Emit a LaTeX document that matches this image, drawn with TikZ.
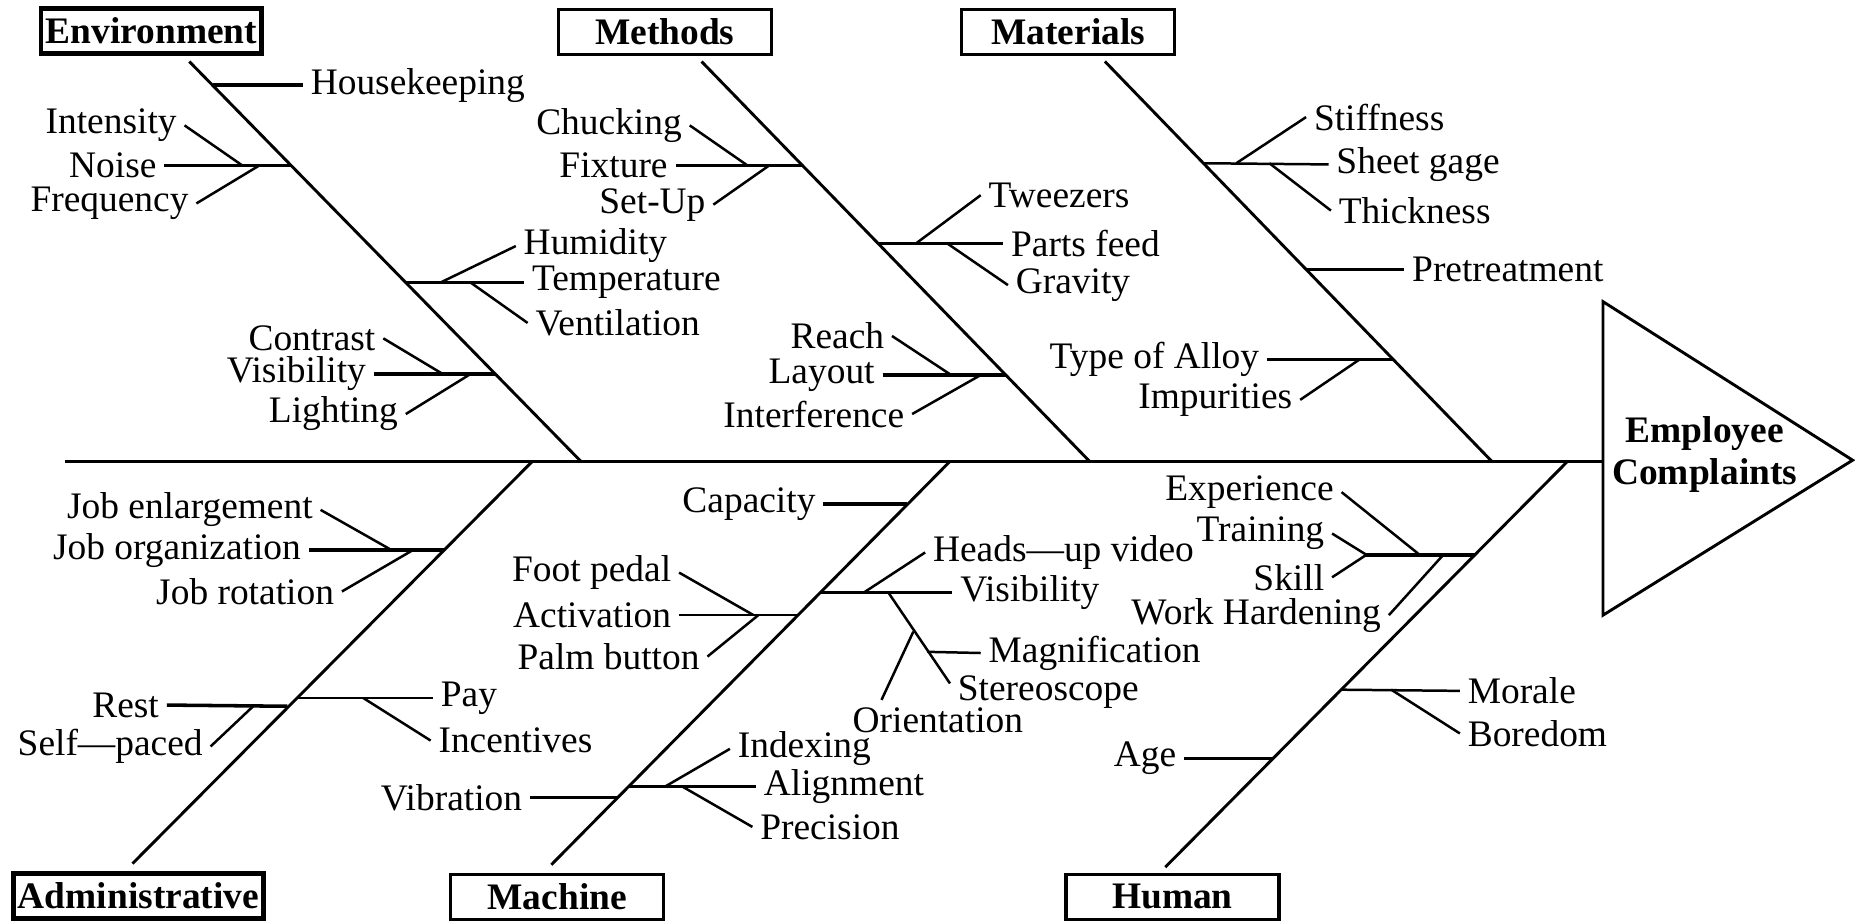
\documentclass[tikz,border=0pt]{standalone}
\usepackage{fontspec}
\setmainfont{Liberation Serif}
\usepackage{xcolor}
\tikzset{
  causebox/.style={draw,line width=0.8pt,text=black,font=\fontsize{9}{10}\selectfont\bfseries,minimum width=18mm,minimum height=3.8mm,inner sep=0.4mm},
  lbl/.style={text=black,font=\fontsize{9}{10}\selectfont,inner sep=0.6mm},
  lleft/.style={lbl,anchor=east},
  lright/.style={lbl,anchor=west},
  bone/.style={line width=0.7pt},
  stem/.style={line width=0.85pt},
  twig/.style={line width=0.6pt}
}

\begin{document}
\begin{tikzpicture}[x=0.1mm,y=-0.1mm]

\useasboundingbox (0,0) rectangle (1568,780);

% spine and head
\coordinate (tail) at (55,390);
\coordinate (headtop) at (1355,255);
\coordinate (headbot) at (1355,520);
\coordinate (headtip) at (1566,389);
\coordinate (headmid) at (1355,390);

\draw[bone] (headtop) -- (headtip) -- (headbot) -- cycle;

\node[font=\fontsize{9}{10}\selectfont\bfseries,align=center] (effect) at (1441,384) {Employee\\Complaints};

\draw[stem] (tail) -- (headmid);

% category boxes
\node[causebox,line width=1.2pt] (env) at (128,26) {Environment};
\node[causebox] (meth) at (562,27) {Methods};
\node[causebox] (mat) at (903,27) {Materials};
\node[causebox,line width=1.2pt] (adm) at (117,757) {Administrative};
\node[causebox] (mach) at (471,758) {Machine};
\node[causebox] (hum) at (991,758) {Human};

% ribs
\coordinate (envtop) at (160,52);
\coordinate (envbot) at (491,390);
\coordinate (methtop) at (593,52);
\coordinate (methbot) at (921,390);
\coordinate (mattop) at (934,52);
\coordinate (matbot) at (1261,390);
\coordinate (admtop) at (450,390);
\coordinate (admbot) at (112,730);
\coordinate (machtop) at (803,390);
\coordinate (machbot) at (466,731);
\coordinate (humtop) at (1325,390);
\coordinate (humbot) at (985,733);

\draw[bone] (envtop) -- (envbot);
\draw[bone] (methtop) -- (methbot);
\draw[bone] (mattop) -- (matbot);
\draw[bone] (admbot) -- (admtop);
\draw[bone] (machbot) -- (machtop);
\draw[bone] (humbot) -- (humtop);

% Environment
\node[lright] (housekeeping) at (256,72) {Housekeeping};
\coordinate (hkj) at (180,72);
\draw[stem] (hkj) -- (housekeeping.west);

\node[lleft] (intensity) at (156,106) {Intensity};
\node[lleft] (noise) at (139,140) {Noise};
\node[lleft] (frequency) at (166,172) {Frequency};
\coordinate (noisej) at (246,140);
\coordinate (intj) at (205,140);
\coordinate (freqj) at (219,140);
\draw[stem] (noise.east) -- (noisej);
\draw[twig] (intensity.east) -- (intj);
\draw[twig] (frequency.east) -- (freqj);

\node[lright] (humidity) at (436,208) {Humidity};
\node[lright] (temperature) at (443,239) {Temperature};
\node[lright] (ventilation) at (446,273) {Ventilation};
\coordinate (tempj) at (343,239);
\coordinate (humj) at (372,239);
\coordinate (ventj) at (398,239);
\draw[twig] (tempj) -- (temperature.west);
\draw[twig] (humj) -- (humidity.west);
\draw[twig] (ventj) -- (ventilation.west);

\node[lleft] (contrast) at (324,286) {Contrast};
\node[lleft] (envvis) at (316,316) {Visibility};
\node[lleft] (lighting) at (343,350) {Lighting};
\coordinate (envvisj) at (418,316);
\coordinate (contj) at (374,316);
\coordinate (lightj) at (398,316);
\draw[stem] (envvis.east) -- (envvisj);
\draw[twig] (contrast.east) -- (contj);
\draw[twig] (lighting.east) -- (lightj);

% Methods
\node[lleft] (chucking) at (583,106) {Chucking};
\node[lleft] (fixture) at (571,140) {Fixture};
\node[lleft] (setup) at (603,173) {Set-Up};
\coordinate (fixj) at (678,140);
\coordinate (chuckj) at (632,140);
\coordinate (setupj) at (650,140);
\draw[stem] (fixture.east) -- (fixj);
\draw[twig] (chucking.east) -- (chuckj);
\draw[twig] (setup.east) -- (setupj);

\node[lright] (tweezers) at (829,165) {Tweezers};
\node[lright] (partsfeed) at (848,206) {Parts feed};
\node[lright] (gravity) at (852,241) {Gravity};
\coordinate (partsj) at (742,206);
\coordinate (tweezj) at (774,206);
\coordinate (gravj) at (801,206);
\draw[stem] (partsj) -- (partsfeed.west);
\draw[twig] (tweezj) -- (tweezers.west);
\draw[twig] (gravj) -- (gravity.west);

\node[lleft] (reach) at (754,284) {Reach};
\node[lleft] (layout) at (746,317) {Layout};
\node[lleft] (interference) at (771,350) {Interference};
\coordinate (layoutj) at (850,317);
\coordinate (reachj) at (804,317);
\coordinate (interj) at (829,317);
\draw[stem] (layout.east) -- (layoutj);
\draw[twig] (reach.east) -- (reachj);
\draw[twig] (interference.east) -- (interj);

% Materials
\node[lright] (stiffness) at (1104,99) {Stiffness};
\node[lright] (sheetgage) at (1123,139) {Sheet gage};
\node[lright] (thickness) at (1125,178) {Thickness};
\coordinate (sheetj) at (1017,138);
\coordinate (stiffj) at (1045,138);
\coordinate (thickj) at (1073,138);
\draw[twig] (sheetj) -- (sheetgage.west);
\draw[twig] (stiffj) -- (stiffness.west);
\draw[twig] (thickj) -- (thickness.west);

\node[lright] (pretreat) at (1187,228) {Pretreatment};
\coordinate (pretreatj) at (1104,228);
\draw[stem] (pretreatj) -- (pretreat.west);

\node[lleft] (alloy) at (1071,304) {Type of Alloy};
\node[lleft] (impurities) at (1099,338) {Impurities};
\coordinate (alloyj) at (1178,304);
\coordinate (impj) at (1149,304);
\draw[stem] (alloy.east) -- (alloyj);
\draw[twig] (impurities.east) -- (impj);

% Administrative
\node[lleft] (jobenl) at (271,431) {Job enlargement};
\node[lleft] (joborg) at (261,465) {Job organization};
\node[lleft] (jobrot) at (289,500) {Job rotation};
\coordinate (joborgj) at (375,465);
\coordinate (jobenlj) at (331,465);
\coordinate (jobrotj) at (349,465);
\draw[stem] (joborg.east) -- (joborgj);
\draw[twig] (jobenl.east) -- (jobenlj);
\draw[twig] (jobrot.east) -- (jobrotj);

\node[lleft] (rest) at (141,596) {Rest};
\node[lleft] (selfpaced) at (178,631) {Self—paced};
\coordinate (restj) at (243,597);
\coordinate (selfj) at (214,597);
\draw[stem] (rest.east) -- (restj);
\draw[twig] (selfpaced.east) -- (selfj);

\node[lright] (pay) at (366,590) {Pay};
\node[lright] (incentives) at (364,626) {Incentives};
\coordinate (payj) at (251,590);
\coordinate (incj) at (307,590);
\draw[twig] (payj) -- (pay.west);
\draw[twig] (incj) -- (incentives.west);

% Machine
\node[lleft] (capacity) at (696,426) {Capacity};
\coordinate (capj) at (767,426);
\draw[stem] (capacity.east) -- (capj);

\node[lleft] (footpedal) at (574,484) {Foot pedal};
\node[lleft] (activation) at (574,520) {Activation};
\node[lleft] (palmbutton) at (598,555) {Palm button};
\coordinate (actj) at (675,520);
\coordinate (footj) at (637,520);
\coordinate (palmj) at (641,520);
\draw[twig] (activation.east) -- (actj);
\draw[twig] (footpedal.east) -- (footj);
\draw[twig] (palmbutton.east) -- (palmj);

\node[lright] (headsup) at (782,467) {Heads—up video};
\node[lright] (machvis) at (805,501) {Visibility};
\node[lright] (magnification) at (829,552) {Magnification};
\node[lright] (stereoscope) at (803,585) {Stereoscope};
\node[lright] (orientation) at (714,609) {Orientation};
\coordinate (machvisj) at (693,501);
\coordinate (headsj) at (730,501);
\coordinate (subj) at (751,501);
\coordinate (magj) at (784,551);
\coordinate (orientj) at (772,534);
\draw[stem] (machvisj) -- (machvis.west);
\draw[twig] (headsj) -- (headsup.west);
\draw[twig] (subj) -- (stereoscope.175);
\draw[twig] (magj) -- (magnification.west);
\draw[twig] (orientj) -- (orientation.160);

\node[lright] (indexing) at (617,633) {Indexing};
\node[lright] (alignment) at (639,665) {Alignment};
\node[lright] (precision) at (636,699) {Precision};
\coordinate (alignj) at (531,665);
\coordinate (indexj) at (562,665);
\coordinate (precj) at (577,665);
\draw[stem] (alignj) -- (alignment.west);
\draw[twig] (indexj) -- (indexing.west);
\draw[twig] (precj) -- (precision.west);

\node[lleft] (vibration) at (448,674) {Vibration};
\coordinate (vibj) at (522,674);
\draw[stem] (vibration.east) -- (vibj);

% Human
\node[lleft] (experience) at (1134,416) {Experience};
\node[lleft] (training) at (1126,451) {Training};
\node[lleft] (skill) at (1126,488) {Skill};
\node[lleft] (workhard) at (1174,520) {Work Hardening};
\coordinate (skillj) at (1247,469);
\coordinate (fork) at (1155,469);
\coordinate (expj) at (1200,469);
\coordinate (workj) at (1220,469);
\draw[stem] (fork) -- (skillj);
\draw[twig] (training.east) -- (fork) -- (skill.east);
\draw[twig] (experience.east) -- (expj);
\draw[twig] (workhard.east) -- (workj);

\node[lright] (morale) at (1234,584) {Morale};
\node[lright] (boredom) at (1234,620) {Boredom};
\coordinate (moralej) at (1134,583);
\coordinate (borej) at (1176,583);
\draw[twig] (moralej) -- (morale.west);
\draw[twig] (borej) -- (boredom.west);

\node[lleft] (age) at (1001,641) {Age};
\coordinate (agej) at (1076,641);
\draw[stem] (age.east) -- (agej);

\end{tikzpicture}
\end{document}
